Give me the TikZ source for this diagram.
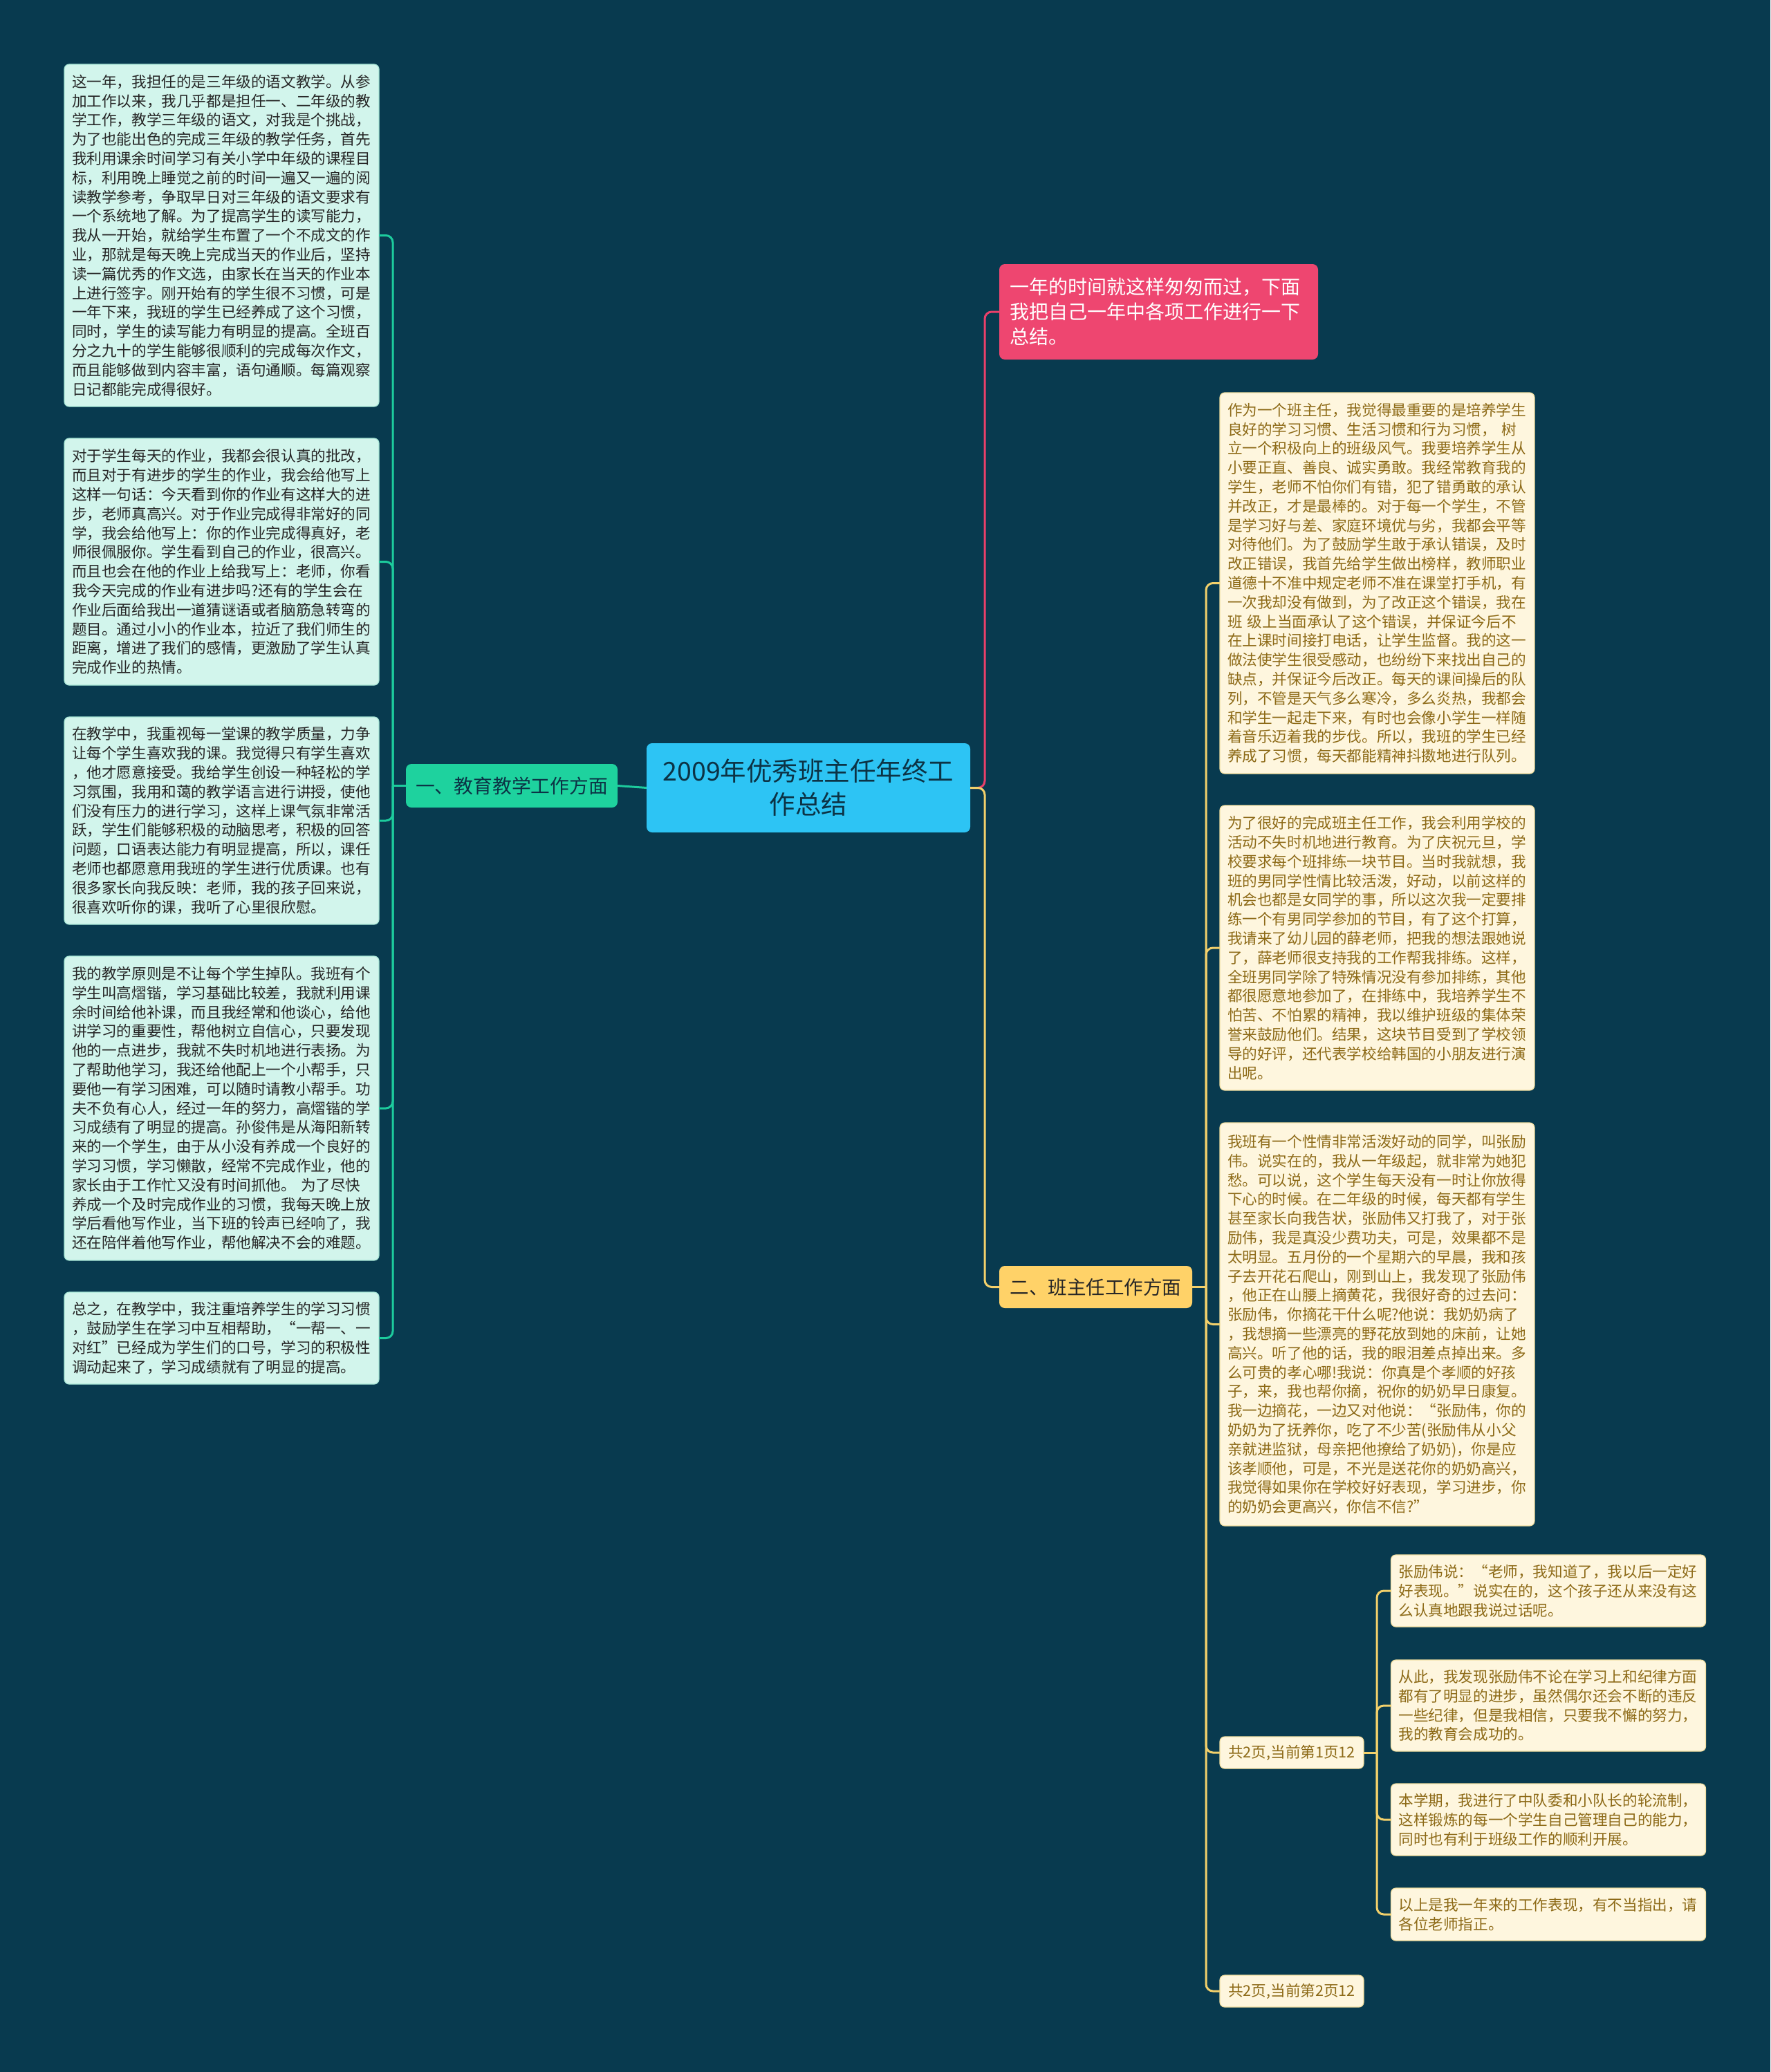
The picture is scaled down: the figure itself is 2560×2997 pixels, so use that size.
\documentclass[tikz,border=0pt]{standalone}
\usepackage{fontspec}
\setmainfont{Noto Sans CJK SC}
\definecolor{bg}{HTML}{083A4F}
\definecolor{rootfill}{HTML}{2DC4F4}
\definecolor{roottext}{HTML}{0C3345}
\definecolor{greenfill}{HTML}{1ED29E}
\definecolor{leafLfill}{HTML}{D2F5EC}
\definecolor{leafLline}{HTML}{A6E6D6}
\definecolor{leafLtext}{HTML}{262626}
\definecolor{lineL}{HTML}{1DCB9D}
\definecolor{pinkfill}{HTML}{EE4670}
\definecolor{lineP}{HTML}{E9406A}
\definecolor{yellowfill}{HTML}{FFD268}
\definecolor{leafRfill}{HTML}{FEF6DE}
\definecolor{leafRline}{HTML}{F3DFA0}
\definecolor{leafRtext}{HTML}{8D6A17}
\definecolor{lineY}{HTML}{F2D06B}
\begin{document}
\begin{tikzpicture}[x=1pt,y=-1pt,
  every node/.style={inner sep=0pt, outer sep=0pt},
  leafL/.style={rectangle, rounded corners=7pt, fill=leafLfill, draw=leafLline, line width=1.2pt,
    text=leafLtext, font=\fontsize{21.6pt}{27.8pt}\selectfont, align=left,
    text width=433pt, inner xsep=11pt, minimum width=455pt},
  leafR/.style={rectangle, rounded corners=7pt, fill=leafRfill, draw=leafRline, line width=1.2pt,
    text=leafRtext, font=\fontsize{21.6pt}{27.8pt}\selectfont, align=left,
    text width=433pt, inner xsep=11pt, minimum width=455pt},
  pagebox/.style={rectangle, rounded corners=7pt, fill=leafRfill, draw=leafRline, line width=1.2pt,
    text=leafRtext, font=\fontsize{21.6pt}{27.8pt}\selectfont,
    minimum width=208pt, minimum height=46pt},
  connL/.style={draw=lineL, line width=3pt, rounded corners=10pt},
  connP/.style={draw=lineP, line width=3pt, rounded corners=10pt},
  connY/.style={draw=lineY, line width=3pt, rounded corners=10pt}
]
\fill[bg] (0,0) rectangle (2560,2997);
\useasboundingbox (0,0) rectangle (2560,2997);

% root
\node[rectangle, rounded corners=8pt, fill=rootfill, text=roottext, align=center,
  font=\fontsize{37.5pt}{48pt}\selectfont, minimum width=468pt, minimum height=129pt]
  (root) at (1169,1139.5) {2009年优秀班主任年终工\\作总结};

% main branches
\node[rectangle, rounded corners=8pt, fill=greenfill, text=roottext,
  font=\fontsize{27.8pt}{34pt}\selectfont, minimum width=306pt, minimum height=63pt]
  (g1) at (740,1136.5) {一、教育教学工作方面};
\node[rectangle, rounded corners=8pt, fill=pinkfill, text=white, align=left,
  font=\fontsize{28pt}{36pt}\selectfont, text width=431pt, inner xsep=15pt,
  minimum width=461pt, minimum height=138pt]
  (pink) at (1675.5,451) {一年的时间就这样匆匆而过，下面\\我把自己一年中各项工作进行一下\\总结。};
\node[rectangle, rounded corners=8pt, fill=yellowfill, text=leafLtext,
  font=\fontsize{27.5pt}{34pt}\selectfont, minimum width=279pt, minimum height=61pt]
  (y2) at (1584.5,1861.5) {二、班主任工作方面};

% left leaves
\node[leafL, minimum height=495pt] (l1) at (320.5,340.5) {这一年，我担任的是三年级的语文教学。从参\\加工作以来，我几乎都是担任一、二年级的教\\学工作，教学三年级的语文，对我是个挑战，\\为了也能出色的完成三年级的教学任务，首先\\我利用课余时间学习有关小学中年级的课程目\\标，利用晚上睡觉之前的时间一遍又一遍的阅\\读教学参考，争取早日对三年级的语文要求有\\一个系统地了解。为了提高学生的读写能力，\\我从一开始，就给学生布置了一个不成文的作\\业，那就是每天晚上完成当天的作业后，坚持\\读一篇优秀的作文选，由家长在当天的作业本\\上进行签字。刚开始有的学生很不习惯，可是\\一年下来，我班的学生已经养成了这个习惯，\\同时，学生的读写能力有明显的提高。全班百\\分之九十的学生能够很顺利的完成每次作文，\\而且能够做到内容丰富，语句通顺。每篇观察\\日记都能完成得很好。};
\node[leafL, minimum height=357pt] (l2) at (320.5,812.5) {对于学生每天的作业，我都会很认真的批改，\\而且对于有进步的学生的作业，我会给他写上\\这样一句话：今天看到你的作业有这样大的进\\步，老师真高兴。对于作业完成得非常好的同\\学，我会给他写上：你的作业完成得真好，老\\师很佩服你。学生看到自己的作业，很高兴。\\而且也会在他的作业上给我写上：老师，你看\\我今天完成的作业有进步吗?还有的学生会在\\作业后面给我出一道猜谜语或者脑筋急转弯的\\题目。通过小小的作业本，拉近了我们师生的\\距离，增进了我们的感情，更激励了学生认真\\完成作业的热情。};
\node[leafL, minimum height=300pt] (l3) at (320.5,1187) {在教学中，我重视每一堂课的教学质量，力争\\让每个学生喜欢我的课。我觉得只有学生喜欢\\，他才愿意接受。我给学生创设一种轻松的学\\习氛围，我用和蔼的教学语言进行讲授，使他\\们没有压力的进行学习，这样上课气氛非常活\\跃，学生们能够积极的动脑思考，积极的回答\\问题，口语表达能力有明显提高，所以，课任\\老师也都愿意用我班的学生进行优质课。也有\\很多家长向我反映：老师，我的孩子回来说，\\很喜欢听你的课，我听了心里很欣慰。};
\node[leafL, minimum height=440pt] (l4) at (320.5,1603) {我的教学原则是不让每个学生掉队。我班有个\\学生叫高熠锴，学习基础比较差，我就利用课\\余时间给他补课，而且我经常和他谈心，给他\\讲学习的重要性，帮他树立自信心，只要发现\\他的一点进步，我就不失时机地进行表扬。为\\了帮助他学习，我还给他配上一个小帮手，只\\要他一有学习困难，可以随时请教小帮手。功\\夫不负有心人，经过一年的努力，高熠锴的学\\习成绩有了明显的提高。孙俊伟是从海阳新转\\来的一个学生，由于从小没有养成一个良好的\\学习习惯，学习懒散，经常不完成作业，他的\\家长由于工作忙又没有时间抓他。 为了尽快\\养成一个及时完成作业的习惯，我每天晚上放\\学后看他写作业，当下班的铃声已经响了，我\\还在陪伴着他写作业，帮他解决不会的难题。};
\node[leafL, minimum height=133pt] (l5) at (320.5,1935.5) {总之，在教学中，我注重培养学生的学习习惯\\，鼓励学生在学习中互相帮助，“一帮一、一\\对红”已经成为学生们的口号，学习的积极性\\调动起来了，学习成绩就有了明显的提高。};

% right leaves
\node[leafR, minimum height=551pt] (r1) at (1991.5,843.5) {作为一个班主任，我觉得最重要的是培养学生\\良好的学习习惯、生活习惯和行为习惯， 树\\立一个积极向上的班级风气。我要培养学生从\\小要正直、善良、诚实勇敢。我经常教育我的\\学生，老师不怕你们有错，犯了错勇敢的承认\\并改正，才是最棒的。对于每一个学生，不管\\是学习好与差、家庭环境优与劣，我都会平等\\对待他们。为了鼓励学生敢于承认错误，及时\\改正错误，我首先给学生做出榜样，教师职业\\道德十不准中规定老师不准在课堂打手机，有\\一次我却没有做到，为了改正这个错误，我在\\班 级上当面承认了这个错误，并保证今后不\\在上课时间接打电话，让学生监督。我的这一\\做法使学生很受感动，也纷纷下来找出自己的\\缺点，并保证今后改正。每天的课间操后的队\\列，不管是天气多么寒冷，多么炎热，我都会\\和学生一起走下来，有时也会像小学生一样随\\着音乐迈着我的步伐。所以，我班的学生已经\\养成了习惯，每天都能精神抖擞地进行队列。};
\node[leafR, minimum height=412pt] (r2) at (1991.5,1371) {为了很好的完成班主任工作，我会利用学校的\\活动不失时机地进行教育。为了庆祝元旦，学\\校要求每个班排练一块节目。当时我就想，我\\班的男同学性情比较活泼，好动，以前这样的\\机会也都是女同学的事，所以这次我一定要排\\练一个有男同学参加的节目，有了这个打算，\\我请来了幼儿园的薛老师，把我的想法跟她说\\了，薛老师很支持我的工作帮我排练。这样，\\全班男同学除了特殊情况没有参加排练，其他\\都很愿意地参加了，在排练中，我培养学生不\\怕苦、不怕累的精神，我以维护班级的集体荣\\誉来鼓励他们。结果，这块节目受到了学校领\\导的好评，还代表学校给韩国的小朋友进行演\\出呢。};
\node[leafR, minimum height=583pt] (r3) at (1991.5,1915.5) {我班有一个性情非常活泼好动的同学，叫张励\\伟。说实在的，我从一年级起，就非常为她犯\\愁。可以说，这个学生每天没有一时让你放得\\下心的时候。在二年级的时候，每天都有学生\\甚至家长向我告状，张励伟又打我了，对于张\\励伟，我是真没少费功夫，可是，效果都不是\\太明显。五月份的一个星期六的早晨，我和孩\\子去开花石爬山，刚到山上，我发现了张励伟\\，他正在山腰上摘黄花，我很好奇的过去问：\\张励伟，你摘花干什么呢?他说：我奶奶病了\\，我想摘一些漂亮的野花放到她的床前，让她\\高兴。听了他的话，我的眼泪差点掉出来。多\\么可贵的孝心哪!我说：你真是个孝顺的好孩\\子，来，我也帮你摘，祝你的奶奶早日康复。\\我一边摘花，一边又对他说：“张励伟，你的\\奶奶为了抚养你，吃了不少苦(张励伟从小父\\亲就进监狱，母亲把他撩给了奶奶)，你是应\\该孝顺他，可是，不光是送花你的奶奶高兴，\\我觉得如果你在学校好好表现，学习进步，你\\的奶奶会更高兴，你信不信?”};
\node[pagebox] (p1) at (1868,2535) {共2页,当前第1页12};
\node[pagebox] (p2) at (1868,2880) {共2页,当前第2页12};

\node[leafR, minimum height=104pt] (s1) at (2239,2301) {张励伟说：“老师，我知道了，我以后一定好\\好表现。”说实在的，这个孩子还从来没有这\\么认真地跟我说过话呢。};
\node[leafR, minimum height=132pt] (s2) at (2239,2467) {从此，我发现张励伟不论在学习上和纪律方面\\都有了明显的进步，虽然偶尔还会不断的违反\\一些纪律，但是我相信，只要我不懈的努力，\\我的教育会成功的。};
\node[leafR, minimum height=104pt] (s3) at (2239,2632) {本学期，我进行了中队委和小队长的轮流制，\\这样锻炼的每一个学生自己管理自己的能力，\\同时也有利于班级工作的顺利开展。};
\node[leafR, minimum height=76pt] (s4) at (2239,2769) {以上是我一年来的工作表现，有不当指出，请\\各位老师指正。};

% connectors (drawn behind nodes)
\begin{scope}[on background layer/.try]
\end{scope}
\coordinate (jL) at (568,1136.5);
\coordinate (jR) at (1424,1139.5);
\coordinate (jY) at (1744,1861.5);
\coordinate (jP) at (1991,2535);

\draw[connL] (root.west) -- (g1.east);
\draw[connL] (g1.west) -- (jL);
\foreach \n in {l1,l2,l3,l4,l5} \draw[connL] (\n.east) -| (jL);

\draw[connP] (pink.west) -| (jR) -- (root.east);
\draw[connY] (y2.west) -| (jR) -- (root.east);

\draw[connY] (y2.east) -- (jY);
\foreach \n in {r1,r2,r3,p1,p2} \draw[connY] (\n.west) -| (jY);

\draw[connY] (p1.east) -- (jP);
\foreach \n in {s1,s2,s3,s4} \draw[connY] (\n.west) -| (jP);
\end{tikzpicture}
\end{document}
